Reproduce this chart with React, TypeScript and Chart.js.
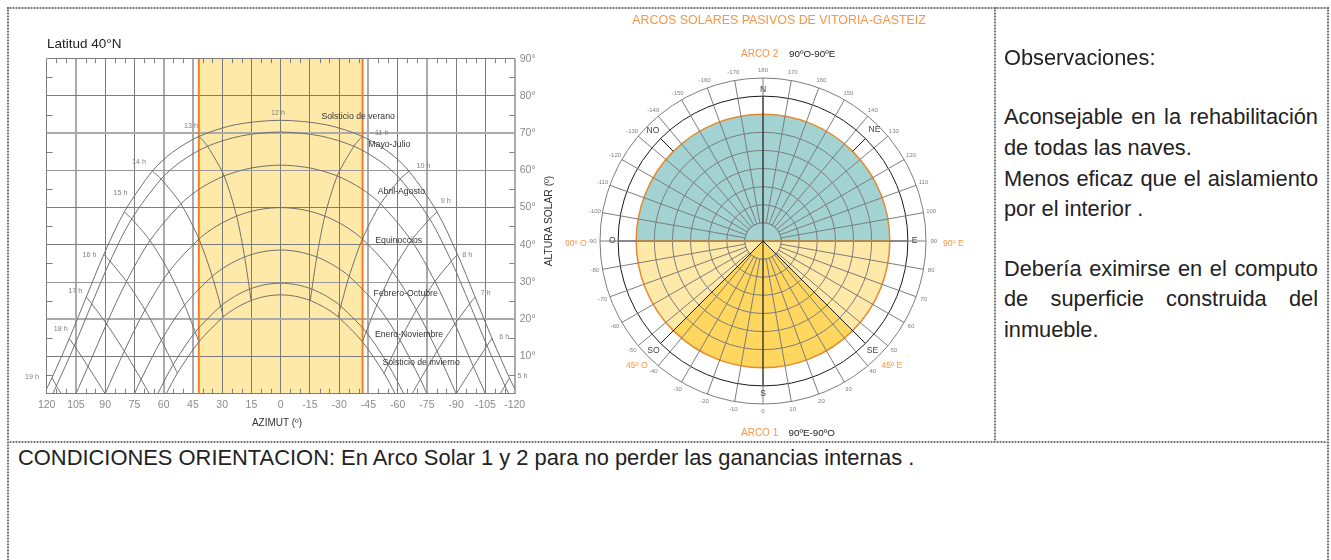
import React, { useEffect, useRef } from "react";
import { Chart, registerables } from "chart.js";

Chart.register(...registerables);

const FONT = '"Liberation Sans", Arial, sans-serif';
Chart.defaults.font.family = FONT;

/* ---------- Left chart data: solar altitude vs. azimuth, afternoon half [azimuth, altitude] ---------- */
const solsticioVerano = [[121.3, 0], [117.3, 4.24], [108.4, 14.82], [99.7, 25.96], [90.7, 37.39], [80.2, 48.83], [65.8, 59.8], [55.6, 64.82], [41.8, 69.15], [23.15, 72.27], [0, 73.45]];
const mayoJulio = [[116.9, 0], [115, 2.13], [105.8, 12.89], [96.9, 24.14], [87.5, 35.6], [76.4, 46.97], [61.3, 57.68], [50.9, 62.47], [37.5, 66.48], [20.2, 69.26], [0, 70.3]];
const abrilAgosto = [[105, 0], [98.8, 7.3], [89.3, 18.75], [79.1, 30.17], [67, 41.15], [51.2, 51.03], [41.1, 55.18], [29, 58.5], [15.1, 60.63], [0, 61.4]];
const equinoccios = [[90, 0], [80.2, 11.43], [69.6, 22.52], [57.3, 32.8], [41.9, 41.56], [32.8, 45.05], [22.6, 47.72], [11.6, 49.41], [0, 50]];
const febreroOctubre = [[75, 0], [71.6, 3.85], [61.2, 14.38], [49.3, 23.82], [35.1, 31.55], [27.1, 34.52], [18.5, 36.74], [9.4, 38.12], [0, 38.6]];
const eneroNoviembre = [[63.1, 0], [55.1, 7.83], [43.8, 16.56], [30.8, 23.52], [23.6, 26.15], [16, 28.09], [8.1, 29.29], [0, 29.7]];
const solsticioInvierno = [[58.7, 0], [53, 5.49], [41.9, 13.95], [29.4, 20.65], [22.5, 23.17], [15.2, 25.02], [7.7, 26.16], [0, 26.55]];

const hora13 = [[41.8, 69.15], [37.5, 66.48], [29, 58.5], [22.6, 47.72], [18.5, 36.74], [16, 28.09], [15.2, 25.02]];
const hora14 = [[65.8, 59.8], [61.3, 57.68], [51.2, 51.03], [41.9, 41.56], [35.1, 31.55], [30.8, 23.52], [29.4, 20.65]];
const hora15 = [[80.2, 48.83], [76.4, 46.97], [67, 41.15], [57.3, 32.8], [49.3, 23.82], [43.8, 16.56], [41.9, 13.95]];
const hora16 = [[90.7, 37.39], [87.5, 35.6], [79.1, 30.17], [69.6, 22.52], [61.2, 14.38], [55.1, 7.83], [53, 5.49]];
const hora17 = [[99.7, 25.96], [96.9, 24.14], [89.3, 18.75], [80.2, 11.43], [71.6, 3.85], [67.4, 0]];
const hora18 = [[108.4, 14.82], [105.8, 12.89], [98.8, 7.3], [90, 0]];
const hora19 = [[117.3, 4.24], [115, 2.13], [112.6, 0]];

const dayPaths = [solsticioVerano, mayoJulio, abrilAgosto, equinoccios, febreroOctubre, eneroNoviembre, solsticioInvierno];
const hourPaths = [hora13, hora14, hora15, hora16, hora17, hora18, hora19];

const azimuthTicks = [120, 105, 90, 75, 60, 45, 30, 15, 0, -15, -30, -45, -60, -75, -90, -105, -120];
const heavyAzimuths = [105, 60, 45, -45, -75, -120];
const heavyAltitudes = [70, 20];
const mediumAltitudes = [60, 30];
const minorAzimuths = [115, 110, 100, 95, 85, 80, 70, 65, 55, 50, 40, 35, 25, 20, 10, 5, -5, -10, -20, -25, -35, -40, -50, -55, -65, -70, -80, -85, -95, -100, -110, -115];
const minorAltitudes = [85, 75, 65, 55, 45, 35, 25, 15, 5];
const bandAzimuth = 42;

const hourLabels: [string, number, number][] = [
  ["12 h", 1.4, 75.5], ["13 h", 46, 71.8], ["14 h", 72.7, 62.2], ["15 h", 82.2, 53.9], ["16 h", 98, 37.2],
  ["17 h", 105.3, 27.6], ["18 h", 112.8, 17.4], ["19 h", 127.5, 4.6], ["11 h", -51.8, 69.9], ["10 h", -73.2, 61.1],
  ["9 h", -84.6, 51.7], ["8 h", -95.7, 37.2], ["7 h", -105, 27.1], ["6 h", -114.7, 15.3], ["5 h", -124, 4.8],
];
const curveLabels: [string, number, number][] = [
  ["Solsticio de verano", -39.7, 74.5], ["Mayo-Julio", -55.7, 67], ["Abril-Agosto", -61.9, 54.2], ["Equinoccios", -60.5, 41],
  ["Febrero-Octubre", -64.1, 26.9], ["Enero-Noviembre", -65.8, 15.8], ["Solsticio de invierno", -72, 8.3],
];

/* ---------- Right chart data: polar diagram ---------- */
const polarLabels = ["180", "170", "160", "150", "140", "130", "120", "110", "100", "90", "80", "70", "60", "50", "40", "30", "20", "10", "0", "-10", "-20", "-30", "-40", "-50", "-60", "-70", "-80", "-90", "-100", "-110", "-120", "-130", "-140", "-150", "-160", "-170"];
const sectorDegrees = [180, 45, 90, 45];
const sectorColors = ["#A3D2D2", "#FFE9A8", "#FFD65E", "#FFE9A8"];
const compassLabels: [string, number, number][] = [
  ["N", 0, 8.37], ["NE", 4.5, 8.7], ["E", 9, 8.37], ["SE", 13.5, 8.55], ["S", 18, 8.4], ["SO", 22.5, 8.55], ["O", 27, 8.32], ["NO", 31.5, 8.6],
];
const compassLines: [number, number, number, string, number][] = [
  [9, 0, 7, "#B08A55", 2], [27, 0, 7, "#B08A55", 2], [9, 7, 8, "#555555", 1], [27, 7, 8, "#555555", 1],
  [0, 0, 8, "#1A1A1A", 1], [18, 0, 8, "#1A1A1A", 1], [13.5, 0, 8, "#1A1A1A", 1], [22.5, 0, 8, "#1A1A1A", 1],
  [4.5, 7, 8, "#1A1A1A", 1], [31.5, 7, 8, "#1A1A1A", 1],
];

/* ---------- Page text ---------- */
const observations: [string, number, boolean][] = [
  ["Observaciones:", 58, false], ["Aconsejable en la rehabilitación", 117, true], ["de todas las naves.", 148, false],
  ["Menos eficaz que el aislamiento", 179, true], ["por el interior .", 209, false], ["Debería eximirse en el computo", 269, true],
  ["de superficie construida del", 299, true], ["inmueble.", 330, false],
];
const ORANGE = "#F79646";
const pageLabels: [string, number, number, number, string, string][] = [
  ["Latitud 40°N", 47, 43.5, 13.5, "#222222", "l"],
  ["AZIMUT (º)", 277, 423, 10, "#333333", "c"],
  ["ARCOS SOLARES PASIVOS DE VITORIA-GASTEIZ", 779, 19.5, 12.4, ORANGE, "c"],
  ["ARCO 2", 741, 54, 10, ORANGE, "l"],
  ["90ºO-90ºE", 789, 54, 9.8, "#222222", "l"],
  ["ARCO 1", 741, 432.5, 10, ORANGE, "l"],
  ["90ºE-90ºO", 788.5, 432.5, 9.8, "#222222", "l"],
  ["90º O", 565, 243, 8.6, ORANGE, "l"],
  ["90º E", 943, 243, 8.6, ORANGE, "l"],
  ["45º O", 626, 365, 8.6, ORANGE, "l"],
  ["45º E", 881.5, 365, 8.6, ORANGE, "l"],
];

const mirror = (half: number[][]) => [...half, ...half.slice(0, -1).reverse().map(([a, h]) => [-a, h])];
const toPoints = (arr: number[][]) => arr.map(([x, y]) => ({ x, y }));

const sunChartPlugin = {
  id: "sunChartExtras",
  beforeDraw(chart: any) {
    const { x, y } = chart.scales;
    const { ctx } = chart;
    ctx.save();
    ctx.fillStyle = "#FFE9A8";
    const l = x.getPixelForValue(bandAzimuth);
    const r = x.getPixelForValue(-bandAzimuth);
    ctx.fillRect(l, y.getPixelForValue(90), r - l, y.getPixelForValue(0) - y.getPixelForValue(90));
    ctx.restore();
  },
  afterDraw(chart: any) {
    const { x, y } = chart.scales;
    const { ctx } = chart;
    ctx.save();
    ctx.strokeStyle = "#808080";
    ctx.lineWidth = 1;
    ctx.beginPath();
    for (const a of minorAzimuths) {
      const px = Math.round(x.getPixelForValue(a)) + 0.5;
      ctx.moveTo(px, y.getPixelForValue(90));
      ctx.lineTo(px, y.getPixelForValue(90) + 4.5);
      ctx.moveTo(px, y.getPixelForValue(0));
      ctx.lineTo(px, y.getPixelForValue(0) - 5);
    }
    for (const h of minorAltitudes) {
      const py = Math.round(y.getPixelForValue(h)) + 0.5;
      ctx.moveTo(x.getPixelForValue(120), py);
      ctx.lineTo(x.getPixelForValue(120) + 6, py);
      ctx.moveTo(x.getPixelForValue(-120), py);
      ctx.lineTo(x.getPixelForValue(-120) - 5.5, py);
    }
    ctx.stroke();
    ctx.textAlign = "center";
    ctx.textBaseline = "middle";
    ctx.font = `7.2px ${FONT}`;
    ctx.fillStyle = "#808080";
    for (const [t, a, h] of hourLabels) ctx.fillText(t, x.getPixelForValue(a), y.getPixelForValue(h));
    ctx.font = `8.7px ${FONT}`;
    ctx.fillStyle = "#333333";
    for (const [t, a, h] of curveLabels) ctx.fillText(t, x.getPixelForValue(a), y.getPixelForValue(h));
    ctx.restore();
  },
};

const polarPlugin = {
  id: "polarExtras",
  afterDraw(chart: any) {
    const r = chart.scales.r;
    const { ctx } = chart;
    const rInner = r.getDistanceFromCenterForValue(1);
    ctx.save();
    let start = -Math.PI;
    sectorDegrees.forEach((deg, i) => {
      const end = start + (deg * Math.PI) / 180;
      ctx.beginPath();
      ctx.moveTo(r.xCenter, r.yCenter);
      ctx.arc(r.xCenter, r.yCenter, rInner, start, end);
      ctx.closePath();
      ctx.fillStyle = sectorColors[i];
      ctx.fill();
      start = end;
    });
    ctx.beginPath();
    ctx.arc(r.xCenter, r.yCenter, rInner, 0, Math.PI * 2);
    ctx.strokeStyle = "#808080";
    ctx.lineWidth = 1;
    ctx.stroke();
    for (const [idx, from, to, color, width] of compassLines) {
      const a = r.getPointPositionForValue(idx, from);
      const b = r.getPointPositionForValue(idx, to);
      ctx.beginPath();
      ctx.moveTo(a.x, a.y);
      ctx.lineTo(b.x, b.y);
      ctx.strokeStyle = color;
      ctx.lineWidth = width;
      ctx.stroke();
    }
    ctx.textAlign = "center";
    ctx.textBaseline = "middle";
    ctx.font = `6px ${FONT}`;
    ctx.fillStyle = "#808080";
    polarLabels.forEach((t, i) => {
      const p = r.getPointPositionForValue(i, 9.43);
      ctx.fillText(t, p.x, p.y);
    });
    ctx.font = `8.6px ${FONT}`;
    ctx.fillStyle = "#444444";
    for (const [t, idx, v] of compassLabels) {
      const p = r.getPointPositionForValue(idx, v);
      ctx.fillText(t, p.x, p.y);
    }
    ctx.restore();
  },
};

function buildSunChart(canvas: HTMLCanvasElement) {
  const curve = (pts: number[][], tension: number) => ({
    data: toPoints(pts), showLine: true, pointRadius: 0, borderWidth: 1, borderColor: "#707070", tension,
  });
  const orange = (az: number) => ({
    data: toPoints([[az, 0], [az, 90]]), showLine: true, pointRadius: 0, borderWidth: 2, borderColor: "#F07F22",
  });
  const datasets: any[] = [
    ...dayPaths.map((p) => curve(mirror(p), 0.3)),
    ...hourPaths.map((p) => curve(p, 0.25)),
    ...hourPaths.map((p) => curve(p.map(([a, h]) => [-a, h]), 0.25)),
    orange(bandAzimuth),
    orange(-bandAzimuth),
  ];
  return new Chart(canvas, {
    type: "scatter",
    data: { datasets },
    plugins: [sunChartPlugin],
    options: {
      responsive: false,
      animation: false,
      events: [],
      layout: { padding: { left: 46.7, top: 58.7, right: 15.3, bottom: 21.3 } },
      plugins: { legend: { display: false }, tooltip: { enabled: false } },
      scales: {
        x: {
          type: "linear", min: -120, max: 120, reverse: true,
          afterFit: (s: any) => { s.height = 25; },
          afterBuildTicks: (s: any) => { s.ticks = azimuthTicks.map((value) => ({ value })); },
          border: { display: false },
          grid: {
            drawTicks: false,
            color: (c: any) => (heavyAzimuths.includes(c.tick?.value) ? "#ABABAB" : "#7C7C7C"),
            lineWidth: (c: any) => (heavyAzimuths.includes(c.tick?.value) ? 2 : 1),
          },
          ticks: { autoSkip: false, maxRotation: 0, padding: 5, color: "#8A8A8A", font: { size: 10.5 }, callback: (v: any) => String(v) },
        },
        y: {
          type: "linear", position: "right", min: 0, max: 90,
          afterFit: (s: any) => { s.width = 30; },
          border: { display: false },
          grid: {
            drawTicks: false,
            color: (c: any) => (heavyAltitudes.includes(c.tick?.value) ? "#ABABAB" : mediumAltitudes.includes(c.tick?.value) ? "#999999" : "#7C7C7C"),
            lineWidth: (c: any) => (heavyAltitudes.includes(c.tick?.value) ? 2 : 1),
          },
          ticks: { stepSize: 10, padding: 5, color: "#8A8A8A", font: { size: 10.5 }, callback: (v: any) => (v === 0 ? "" : `${v}°`) },
        },
      },
    } as any,
  });
}

function buildSectorChart(canvas: HTMLCanvasElement) {
  return new Chart(canvas, {
    type: "pie",
    data: { labels: ["Arco 2", "Arco 1 E", "Arco 1 S", "Arco 1 O"], datasets: [{ data: sectorDegrees, backgroundColor: sectorColors, borderWidth: 0 }] },
    options: {
      responsive: false, animation: false, events: [], rotation: -90,
      plugins: { legend: { display: false }, tooltip: { enabled: false } },
    } as any,
  });
}

function buildPolarChart(canvas: HTMLCanvasElement) {
  return new Chart(canvas, {
    type: "radar",
    data: { labels: polarLabels, datasets: [] },
    plugins: [polarPlugin],
    options: {
      responsive: false, animation: false, events: [],
      layout: { padding: 36.5 },
      plugins: { legend: { display: false }, tooltip: { enabled: false } },
      scales: {
        r: {
          min: 0, max: 9,
          ticks: { display: false, stepSize: 1 },
          pointLabels: { display: false },
          angleLines: { display: true, color: "#7C7C7C", lineWidth: 1 },
          grid: {
            circular: true,
            color: (c: any) => (c.tick?.value === 7 ? "#E58A2E" : c.tick?.value === 8 ? "#1A1A1A" : "#7C7C7C"),
            lineWidth: (c: any) => (c.tick?.value === 7 ? 1.5 : 1),
          },
        },
      },
    } as any,
  });
}

const abs = (extra: React.CSSProperties): React.CSSProperties => ({ position: "absolute", ...extra });
const DASH_H = "repeating-linear-gradient(90deg,#6E6E6E 0 1.5px,#C4C4C4 1.5px 3px)";
const DASH_V = "repeating-linear-gradient(180deg,#6E6E6E 0 1.5px,#C4C4C4 1.5px 3px)";

export default function App() {
  const sunRef = useRef<HTMLCanvasElement>(null);
  const sectorRef = useRef<HTMLCanvasElement>(null);
  const polarRef = useRef<HTMLCanvasElement>(null);

  useEffect(() => {
    const charts = [buildSunChart(sunRef.current!), buildSectorChart(sectorRef.current!), buildPolarChart(polarRef.current!)];
    return () => charts.forEach((c) => c.destroy());
  }, []);

  return (
    <div style={abs({ left: 0, top: 0, width: 1331, height: 560, overflow: "hidden", background: "#fff", fontFamily: FONT })}>
      <div style={abs({ left: 7, top: 7, width: 1321, height: 1.5, background: DASH_H })} />
      <div style={abs({ left: 7, top: 441, width: 1321, height: 1.5, background: DASH_H })} />
      <div style={abs({ left: 7, top: 7, width: 2, height: 553, background: DASH_V })} />
      <div style={abs({ left: 994, top: 7, width: 2, height: 434, background: DASH_V })} />
      <div style={abs({ left: 1327, top: 7, width: 2, height: 553, background: DASH_V })} />

      <canvas ref={sunRef} width={560} height={440} style={abs({ left: 0, top: 0, width: 560, height: 440 })} />
      <canvas ref={sectorRef} width={254} height={254} style={abs({ left: 636, top: 114, width: 254, height: 254 })} />
      <canvas ref={polarRef} width={400} height={400} style={abs({ left: 563, top: 41, width: 400, height: 400 })} />

      {pageLabels.map(([t, x, y, size, color, anchor]) => (
        <span key={t} style={abs({ left: x, top: y, fontSize: size, color, whiteSpace: "nowrap", lineHeight: 1, transform: anchor === "c" ? "translate(-50%,-50%)" : "translateY(-50%)" })}>{t}</span>
      ))}
      <span style={abs({ left: 548.5, top: 221, fontSize: 10.3, color: "#333333", whiteSpace: "nowrap", lineHeight: 1, transform: "translate(-50%,-50%) rotate(-90deg)" })}>ALTURA SOLAR (º)</span>

      {observations.map(([t, y, justify]) => (
        <div key={t} style={abs({ left: 1004, top: y, width: 314, fontSize: 21.8, lineHeight: 1, color: "#222222", transform: "translateY(-50%)", whiteSpace: justify ? "normal" : "nowrap", textAlign: justify ? "justify" : "left", textAlignLast: justify ? "justify" : "left" })}>{t}</div>
      ))}
      <div style={abs({ left: 18, top: 458, fontSize: 21.9, lineHeight: 1, color: "#222222", whiteSpace: "nowrap", transform: "translateY(-50%)" })}>CONDICIONES ORIENTACION: En Arco Solar 1 y 2 para no perder las ganancias internas .</div>
    </div>
  );
}
